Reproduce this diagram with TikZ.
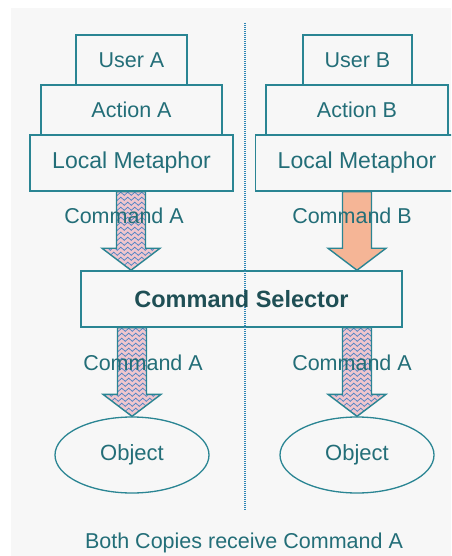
\documentclass[tikz,border=0pt]{standalone}
\usepackage{fontspec}
\setmainfont{Liberation Sans}
\usetikzlibrary{calc,shapes.geometric,decorations.pathmorphing}

\definecolor{pagegray}{HTML}{F7F7F7}
\definecolor{edge}{HTML}{2A8593}
\definecolor{ink}{HTML}{236E78}
\definecolor{boldink}{HTML}{1F4F55}
\definecolor{wavepink}{HTML}{EFC6CE}
\definecolor{waveblue}{HTML}{4A82C4}
\definecolor{peach}{HTML}{F5B596}
\definecolor{divider}{HTML}{2E86B5}

\tikzset{
  txt/.style={text=ink, font=\fontsize{21.5}{24}\selectfont, inner sep=0pt},
  layer/.style={draw=edge, line width=1.5pt, fill=pagegray, rectangle, inner sep=0pt,
    text=ink, font=\fontsize{21.5}{24}\selectfont},
  objshape/.style={draw=edge, line width=1.3pt, ellipse, inner sep=0pt,
    minimum width=154pt, minimum height=76pt, text=ink, font=\fontsize{22}{24}\selectfont},
  wavefill/.style={fill=wavepink, path picture={
    \foreach \k in {0,...,26}{
      \draw[waveblue, line width=0.7pt, decorate,
            decoration={zigzag, segment length=7pt, amplitude=1.6pt}]
        ([xshift=-4pt,yshift=-\k*5pt-2pt]path picture bounding box.north west) --
        ([xshift=4pt,yshift=-\k*5pt-2pt]path picture bounding box.north east);
    }}},
  peachfill/.style={fill=peach},
  fatarrow/.style={draw=edge, line width=1.4pt, line join=miter}
}

% block arrow from #1 (top centre) down to #2 (tip)
\newcommand{\blockarrow}[3]{%
  \path[fatarrow,#3]
    ([xshift=-14.5pt]#1) -- ([xshift=-14.5pt,yshift=22pt]#2) --
    ([xshift=-29pt,yshift=22pt]#2) -- (#2) --
    ([xshift=29pt,yshift=22pt]#2) -- ([xshift=14.5pt,yshift=22pt]#2) --
    ([xshift=14.5pt]#1) -- cycle;}

\begin{document}
\begin{tikzpicture}[x=1pt,y=-1pt]
  \useasboundingbox (0,0) rectangle (451,556);
  \clip (0,0) rectangle (451,556);
  \fill[white] (0,0) rectangle (451,556);
  \fill[pagegray] (11,8) rectangle (451,556);

  % left stack
  \node[layer, minimum width=111pt, minimum height=50pt] (userA) at (131.5,60) {User A};
  \node[layer, minimum width=181pt, minimum height=50pt] (actA) at (131.5,110) {Action A};
  \node[layer, minimum width=203pt, minimum height=56pt,
        font=\fontsize{23}{26}\selectfont] (lmA) at (131.5,163) {Local Metaphor};

  % right stack
  \node[layer, minimum width=109pt, minimum height=50pt] (userB) at (357.5,60) {User B};
  \node[layer, minimum width=182pt, minimum height=50pt] (actB) at (357,110) {Action B};
  \node[layer, minimum width=203pt, minimum height=56pt,
        font=\fontsize{23}{26}\selectfont] (lmB) at (357,163) {Local Metaphor};

  % selector
  \node[layer, fill=none, minimum width=321pt, minimum height=56pt] (sel) at (241.5,299) {};

  % objects
  \node[objshape] (objA) at (132,455) {Object};
  \node[objshape] (objB) at (357,455) {Object};

  % endpoints of the block arrows
  \coordinate (a1t) at ([xshift=-0.5pt]lmA.south);
  \coordinate (a1e) at (a1t |- sel.north);
  \coordinate (b1t) at (lmB.south);
  \coordinate (b1e) at (b1t |- sel.north);
  \coordinate (a2e) at (objA.north);
  \coordinate (a2t) at (a2e |- sel.south);
  \coordinate (b2e) at (objB.north);
  \coordinate (b2t) at (b2e |- sel.south);

  \blockarrow{a1t}{a1e}{wavefill}
  \blockarrow{b1t}{b1e}{peachfill}
  \blockarrow{a2t}{a2e}{wavefill}
  \blockarrow{b2t}{b2e}{wavefill}

  % dividing line between the two copies
  \coordinate (divtop) at (245,23);
  \coordinate (divbot) at (245,511);
  \draw[divider, line width=1.2pt, dash pattern=on 1pt off 1pt] (divtop) -- (divbot);

  % labels
  \node[txt] (labA1) at (124,216) {Command A};
  \node[txt] (labB1) at (352,216) {Command B};
  \node[txt] (labA2) at (143,363) {Command A};
  \node[txt] (labB2) at (352,363) {Command A};
  \node[inner sep=0pt, text=boldink, font=\bfseries\fontsize{23.5}{26}\selectfont]
    (selText) at (sel.center) {Command Selector};
  \node[txt] (caption) at (244,543) {Both Copies receive Command A};
\end{tikzpicture}
\end{document}
